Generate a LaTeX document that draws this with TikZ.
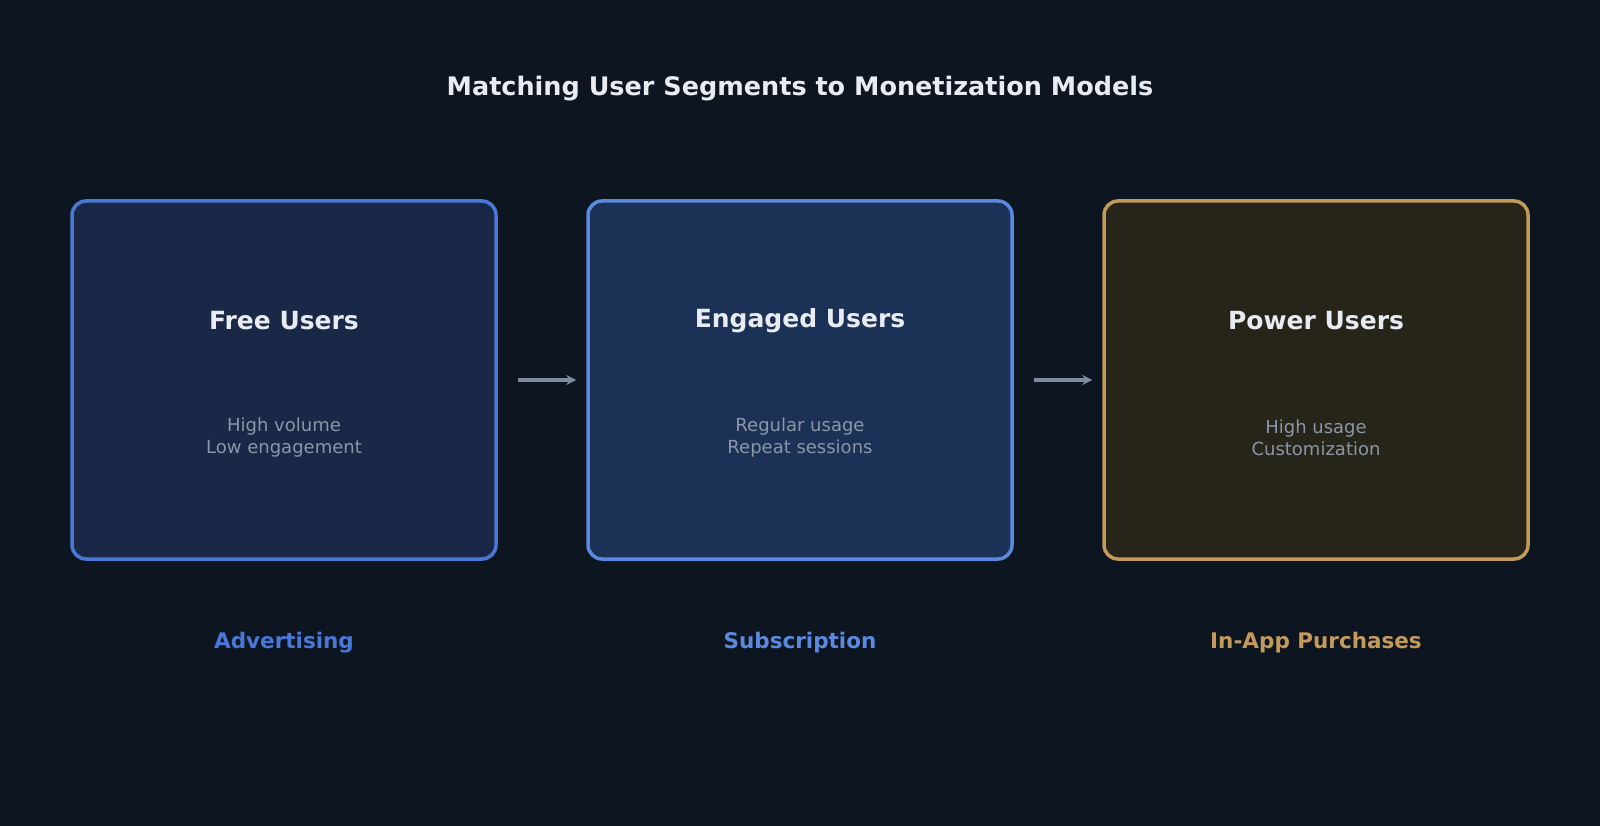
\documentclass[tikz,border=0pt]{standalone}
\usepackage{fontspec}
\usetikzlibrary{arrows.meta}
\setmainfont{DejaVu Sans}
\begin{document}
\definecolor{bg}{HTML}{0D1520}
\definecolor{fa}{HTML}{182846}\definecolor{ba}{HTML}{4A78D8}
\definecolor{fb}{HTML}{1C3156}\definecolor{bb}{HTML}{5A8AE0}
\definecolor{fc}{HTML}{27251A}\definecolor{bc}{HTML}{C49A5A}
\definecolor{tw}{HTML}{E8ECF2}\definecolor{td}{HTML}{8A96A8}
\definecolor{ar}{HTML}{7D8AA0}
\begin{tikzpicture}[x=1pt,y=-1pt,
 box/.style={draw,line width=3.5pt,rounded corners=14pt,minimum width=424pt,minimum height=358pt},
 ttl/.style={text=tw,font=\bfseries\fontsize{25}{30}\selectfont},
 desc/.style={text=td,font=\fontsize{18}{22}\selectfont,align=center},
 lab/.style={font=\bfseries\fontsize{21.5}{26}\selectfont},
 arr/.style={draw=ar,line width=3.5pt,-{Stealth[length=10pt,width=10pt]}}]
\fill[bg] (0,0) rectangle (1600,826);
\node[text=tw,font=\bfseries\fontsize{25.5}{30}\selectfont] (t) at (800,89) {Matching User Segments to Monetization Models};
\node[box,fill=fa,draw=ba] (b1) at (284,380) {};
\node[box,fill=fb,draw=bb] (b2) at (800,380) {};
\node[box,fill=fc,draw=bc] (b3) at (1316,380) {};
\node[ttl] (t1) at (284,321) {Free Users};
\node[ttl] (t2) at (800,321) {Engaged Users};
\node[ttl] (t3) at (1316,321) {Power Users};
\node[desc] (d1) at (284,438) {High volume\\Low engagement};
\node[desc] (d2) at (800,438) {Regular usage\\Repeat sessions};
\node[desc] (d3) at (1316,438) {High usage\\Customization};
\node[lab,text=ba] (l1) at (284,643) {Advertising};
\node[lab,text=bb] (l2) at (800,643) {Subscription};
\node[lab,text=bc] (l3) at (1316,643) {In-App Purchases};
\draw[arr] ([xshift=20pt]b1.east) -- ([xshift=-10pt]b2.west);
\draw[arr] ([xshift=20pt]b2.east) -- ([xshift=-10pt]b3.west);
\end{tikzpicture}
\end{document}
